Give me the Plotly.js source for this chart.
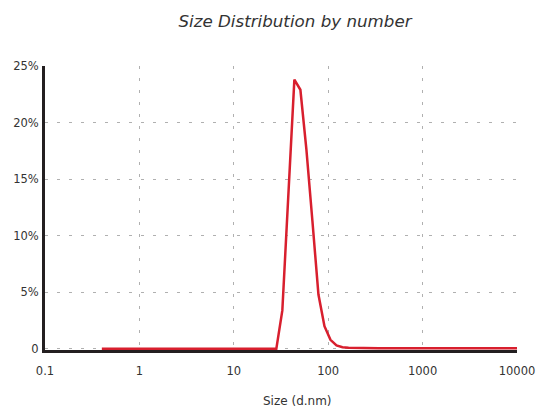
<!DOCTYPE html>
<html>
<head>
<meta charset="utf-8">
<script src="https://cdn.plot.ly/plotly-3.0.1.min.js"></script>
<style>html,body{margin:0;padding:0;background:#fff;}#chart{width:539px;height:407px;}</style>
</head>
<body>
<div id="chart"></div>
<script>
// Size bins (d.nm)
const sizes = [0.4, 0.4632, 0.5365, 0.6213, 0.7195, 0.8332, 0.9649, 1.117, 1.294, 1.499,
  1.736, 2.01, 2.328, 2.696, 3.122, 3.615, 4.187, 4.849, 5.615, 6.503,
  7.531, 8.721, 10.1, 11.7, 13.54, 15.69, 18.17, 21.04, 24.36, 28.21,
  32.67, 37.84, 43.82, 50.75, 58.77, 68.06, 78.82, 91.28, 105.7, 122.4,
  141.8, 164.2, 190.1, 220.2, 255, 295.3, 342, 396.1, 458.7, 531.2,
  615.1, 712.4, 825, 955.4, 1106, 1281, 1484, 1718, 1990, 2305,
  2669, 3091, 3580, 4145, 4801, 5560, 6439, 7456, 8635, 10000];
// Number (%)
const numberPct = [0, 0, 0, 0, 0, 0, 0, 0, 0, 0,
  0, 0, 0, 0, 0, 0, 0, 0, 0, 0,
  0, 0, 0, 0, 0, 0, 0, 0, 0, 0,
  3.4, 14.0, 23.8, 22.9, 17.6, 11.3, 4.8, 2.0, 0.8, 0.3,
  0.15, 0.1, 0.08, 0.07, 0.06, 0.05, 0.05, 0.05, 0.05, 0.05,
  0.05, 0.05, 0.05, 0.05, 0.05, 0.05, 0.05, 0.05, 0.05, 0.05,
  0.05, 0.05, 0.05, 0.05, 0.05, 0.05, 0.05, 0.05, 0.05, 0.05];
const xTickVals = [0.1, 1, 10, 100, 1000, 10000];
const xTickText = ["0.1", "1", "10", "100", "1000", "10000"];
const yTickVals = [0, 5, 10, 15, 20, 25];
const yTickText = ["0", "5%", "10%", "15%", "20%", "25%"];

const FONT = "DejaVu Sans, Open Sans, sans-serif";
const trace = {
  x: sizes, y: numberPct, type: "scatter", mode: "lines",
  line: {color: "#d81f2e", width: 2.5},
  hoverinfo: "skip"
};
const layout = {
  width: 539, height: 407,
  margin: {l: 45, r: 22, t: 66, b: 57},
  paper_bgcolor: "#fff", plot_bgcolor: "#fff",
  showlegend: false,
  font: {family: FONT, color: "#333", size: 11},
  title: {text: "<i>Size Distribution by number</i>", x: 0.5473, xanchor: "center", xref: "container",
          y: 0.948, yanchor: "middle", yref: "container",
          font: {family: FONT, size: 16.7, color: "#333"}},
  xaxis: {
    type: "log", range: [-1, 4],
    tickvals: xTickVals, ticktext: xTickText,
    showline: true, linecolor: "#231f20", linewidth: 3, layer: "below traces",
    showgrid: true, gridcolor: "#b0b0b0", gridwidth: 1, griddash: "3px,9px",
    zeroline: false, ticks: "", ticklabelstandoff: 8,
    tickfont: {size: 11.5, color: "#333"}
  },
  yaxis: {
    range: [-0.1, 25],
    tickvals: yTickVals, ticktext: yTickText,
    showline: true, linecolor: "#231f20", linewidth: 3, layer: "below traces",
    showgrid: true, gridcolor: "#b0b0b0", gridwidth: 1, griddash: "3px,9px",
    zeroline: false, ticks: "", ticklabelstandoff: 1,
    tickfont: {size: 11.5, color: "#333"}
  },
  annotations: [{
    text: "Size (d.nm)", xref: "paper", yref: "paper",
    x: 0.536, y: -0.18, xanchor: "center", yanchor: "middle",
    showarrow: false, font: {family: FONT, size: 12, color: "#333"}
  }]
};
Plotly.newPlot("chart", [trace], layout, {staticPlot: true, displayModeBar: false});
</script>
</body>
</html>
